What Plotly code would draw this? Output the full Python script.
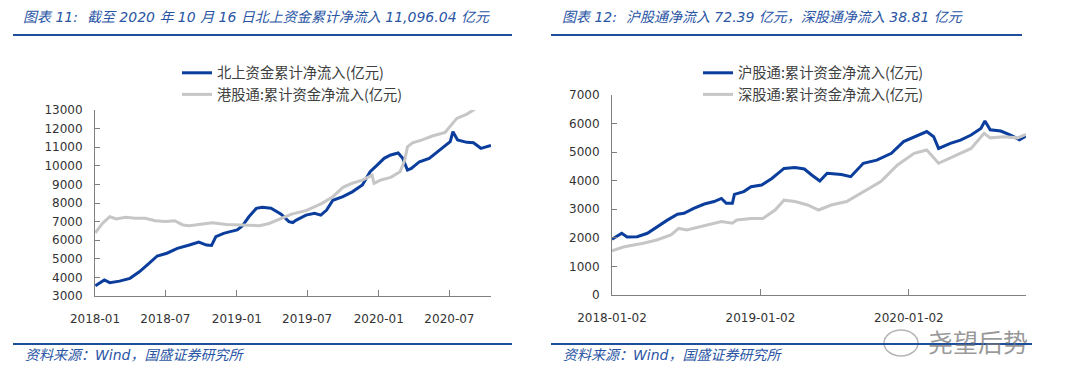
import plotly.graph_objects as go

# ---------------- data ----------------
north_dates = ["2018-01-02","2018-01-25","2018-02-08","2018-03-05","2018-04-01","2018-04-25","2018-05-20",
               "2018-06-10","2018-07-05","2018-08-01","2018-09-01","2018-09-25","2018-10-15","2018-10-28",
               "2018-11-08","2018-11-28","2018-12-15","2019-01-02","2019-01-15","2019-02-01","2019-02-20",
               "2019-03-07","2019-03-30","2019-04-25","2019-05-15","2019-05-25","2019-06-03","2019-06-28",
               "2019-07-20","2019-08-05","2019-08-20","2019-09-05","2019-10-01","2019-10-25","2019-11-20",
               "2019-12-10","2019-12-28","2020-01-15","2020-02-01","2020-02-20","2020-03-03","2020-03-15",
               "2020-03-25","2020-04-15","2020-05-10","2020-06-01","2020-06-20","2020-07-03","2020-07-10",
               "2020-07-22","2020-08-15","2020-09-01","2020-09-20","2020-10-05","2020-10-16"]
north_vals = [3550,3860,3715,3800,3950,4300,4750,5150,5300,5560,5740,5900,5740,5720,6190,6370,6460,6550,6760,
              7260,7710,7770,7720,7400,7000,6950,7080,7350,7450,7350,7620,8150,8340,8600,8970,9680,10040,10400,
              10580,10690,10400,9770,9860,10220,10400,10760,11120,11300,11830,11390,11260,11240,10940,11030,11096]

south_dates = ["2018-01-02","2018-01-20","2018-02-08","2018-02-25","2018-03-20","2018-04-15","2018-05-10",
               "2018-06-05","2018-07-01","2018-07-25","2018-08-15","2018-09-01","2018-10-05","2018-10-30",
               "2018-12-05","2019-01-10","2019-02-28","2019-03-25","2019-04-28","2019-05-22","2019-06-28",
               "2019-08-08","2019-09-05","2019-10-01","2019-10-25","2019-11-20","2019-12-15","2019-12-20",
               "2020-01-07","2020-02-01","2020-02-25","2020-03-08","2020-03-15","2020-03-28","2020-04-22",
               "2020-05-18","2020-06-20","2020-07-03","2020-07-20","2020-08-15","2020-09-01","2020-09-20",
               "2020-10-16"]
south_vals = [6400,6900,7260,7140,7230,7175,7175,7050,7000,7050,6820,6780,6870,6940,6850,6820,6780,6900,7170,
              7400,7590,7980,8340,8840,9060,9230,9500,9060,9240,9380,9680,10310,11020,11240,11390,11600,11800,
              12100,12550,12780,13000,13300,13600]

sh_dates = ["2018-01-02","2018-01-26","2018-02-08","2018-03-05","2018-03-30","2018-04-22","2018-05-18",
            "2018-06-12","2018-06-28","2018-07-22","2018-08-17","2018-09-10","2018-09-28","2018-10-10",
            "2018-10-25","2018-10-30","2018-11-22","2018-12-10","2019-01-05","2019-01-30","2019-02-15",
            "2019-03-01","2019-03-28","2019-04-20","2019-05-08","2019-05-28","2019-06-15","2019-07-20",
            "2019-08-12","2019-09-12","2019-10-15","2019-11-20","2019-12-20","2020-01-15","2020-02-15",
            "2020-03-03","2020-03-15","2020-04-13","2020-05-08","2020-06-03","2020-06-27","2020-07-07",
            "2020-07-20","2020-08-15","2020-09-08","2020-09-30","2020-10-16"]
sh_vals = [1950,2160,2030,2040,2160,2390,2620,2830,2860,3030,3185,3270,3380,3210,3210,3520,3620,3790,3850,
           4080,4260,4430,4460,4410,4200,3990,4260,4220,4140,4610,4720,4960,5370,5540,5720,5540,5130,5310,
           5420,5600,5830,6090,5780,5740,5600,5430,5560]

sz_dates = ["2018-01-02","2018-02-01","2018-03-20","2018-04-22","2018-05-27","2018-06-15","2018-07-05",
            "2018-08-17","2018-09-28","2018-10-25","2018-11-05","2018-12-10","2019-01-08","2019-02-07",
            "2019-03-01","2019-03-28","2019-04-28","2019-05-25","2019-06-25","2019-08-02","2019-09-12",
            "2019-10-25","2019-12-05","2020-01-15","2020-02-15","2020-03-15","2020-04-20","2020-06-03",
            "2020-07-05","2020-07-20","2020-08-22","2020-09-25","2020-10-16"]
sz_vals = [1550,1690,1810,1925,2100,2330,2275,2430,2570,2510,2625,2680,2680,2975,3320,3270,3150,2975,3150,
           3270,3620,3970,4550,4960,5075,4610,4840,5130,5660,5500,5540,5500,5620]

left_tickvals = ["2018-01-01","2018-07-01","2019-01-01","2019-07-01","2020-01-01","2020-07-01"]
left_ticktext = ["2018-01","2018-07","2019-01","2019-07","2020-01","2020-07"]
right_tickvals = ["2018-01-02","2019-01-02","2020-01-02"]
right_ticktext = ["2018-01-02","2019-01-02","2020-01-02"]

title_left = "图表 11:  截至 2020 年 10 月 16 日北上资金累计净流入 11,096.04 亿元"
title_right = "图表 12:  沪股通净流入 72.39 亿元，深股通净流入 38.81 亿元"
source_text = "资料来源：Wind，国盛证券研究所"

# ---------------- style ----------------
# the page body has an 8px margin, so the figure starts at (8, 8) in the window
OFF = 8
W, H = 1080 - OFF, 388 - OFF
BLUE = "#0A3D9C"
GRAY = "#C6C6C6"
TXT_BLUE = "#2A55A5"
RULE_BLUE = "#1F4E9A"
AX = "#808080"
TICKFONT = dict(family="DejaVu Sans, Verdana, sans-serif", size=12, color="#333333")
LEGFONT = dict(family="Noto Sans CJK SC, sans-serif", size=14.3, color="#404040")

def px(x):
    return (x - OFF) / W

def py(y):
    return 1 - (y - OFF) / H

fig = go.Figure()
fig.add_trace(go.Scatter(x=north_dates, y=north_vals, mode="lines", name="北上资金累计净流入(亿元)",
                         line=dict(color=BLUE, width=3), xaxis="x", yaxis="y", legend="legend"))
fig.add_trace(go.Scatter(x=south_dates, y=south_vals, mode="lines", name="港股通:累计资金净流入(亿元)",
                         line=dict(color=GRAY, width=3), xaxis="x", yaxis="y", legend="legend"))
fig.add_trace(go.Scatter(x=sh_dates, y=sh_vals, mode="lines", name="沪股通:累计资金净流入(亿元)",
                         line=dict(color=BLUE, width=3), xaxis="x2", yaxis="y2", legend="legend2"))
fig.add_trace(go.Scatter(x=sz_dates, y=sz_vals, mode="lines", name="深股通:累计资金净流入(亿元)",
                         line=dict(color=GRAY, width=3), xaxis="x2", yaxis="y2", legend="legend2"))

xcommon = dict(showgrid=False, zeroline=False, showline=True, linecolor=AX, linewidth=1, automargin=False,
               ticks="inside", ticklen=6, tickcolor=AX, tickfont=TICKFONT, type="date",
               ticklabelstandoff=12)
ycommon = dict(showgrid=False, zeroline=False, showline=True, linecolor=AX, linewidth=1, automargin=False,
               ticks="inside", ticklen=5, tickcolor=AX, tickfont=TICKFONT, dtick=1000, tickformat="d",
               ticklabelstandoff=9)

fig.update_layout(
    template="none",
    width=W, height=H, margin=dict(l=0, r=0, t=0, b=0, autoexpand=False),
    paper_bgcolor="white", plot_bgcolor="white",
    xaxis=dict(**xcommon, domain=[px(95), px(491)], range=["2018-01-01", "2020-10-16"],
               tickmode="array", tickvals=left_tickvals, ticktext=left_ticktext, anchor="y"),
    yaxis=dict(**ycommon, domain=[py(296), py(110)], range=[3000, 13000], anchor="x"),
    xaxis2=dict(**xcommon, domain=[px(612), px(1026)], range=["2018-01-02", "2020-10-16"],
                tickmode="array", tickvals=right_tickvals, ticktext=right_ticktext, anchor="y2"),
    yaxis2=dict(**ycommon, domain=[py(295), py(95)], range=[0, 7000], anchor="x2"),
    legend=dict(x=px(177), y=py(57), xanchor="left", yanchor="top", font=LEGFONT,
                bgcolor="rgba(0,0,0,0)", tracegroupgap=0, itemwidth=30),
    legend2=dict(x=px(698), y=py(57), xanchor="left", yanchor="top", font=LEGFONT,
                 bgcolor="rgba(0,0,0,0)", tracegroupgap=0, itemwidth=30),
    showlegend=True,
)

title_font = dict(family="DejaVu Sans, Noto Sans CJK SC, sans-serif", size=14, color=TXT_BLUE, style="italic")
fig.add_annotation(text=title_left, x=px(21), y=py(17), xref="paper", yref="paper",
                   xanchor="left", yanchor="middle", showarrow=False, font=title_font)
fig.add_annotation(text=title_right, x=px(560), y=py(17), xref="paper", yref="paper",
                   xanchor="left", yanchor="middle", showarrow=False, font=title_font)
src_font = dict(family="DejaVu Sans, Noto Sans CJK SC, sans-serif", size=14, color=TXT_BLUE, style="italic")
fig.add_annotation(text=source_text, x=px(23), y=py(355), xref="paper", yref="paper",
                   xanchor="left", yanchor="middle", showarrow=False, font=src_font)
fig.add_annotation(text=source_text, x=px(561), y=py(355), xref="paper", yref="paper",
                   xanchor="left", yanchor="middle", showarrow=False, font=src_font)
# watermark
fig.add_annotation(text="尧望后势", x=px(978), y=py(341), xref="paper", yref="paper",
                   xanchor="center", yanchor="middle", showarrow=False,
                   font=dict(family="Noto Sans CJK SC, sans-serif", size=25, color="rgba(120,120,120,0.75)"))
fig.add_shape(type="circle", xref="paper", yref="paper", x0=px(884), x1=px(918), y0=py(356), y1=py(330),
              line=dict(color="rgba(150,150,150,0.7)", width=1.5))

# rules
for (x0, x1, y) in [(13, 512, 35), (551, 1022, 35), (13, 512, 344), (551, 1032, 344)]:
    fig.add_shape(type="line", xref="paper", yref="paper", x0=px(x0), x1=px(x1), y0=py(y), y1=py(y),
                  line=dict(color=RULE_BLUE, width=2))

fig.write_html("out.html")
